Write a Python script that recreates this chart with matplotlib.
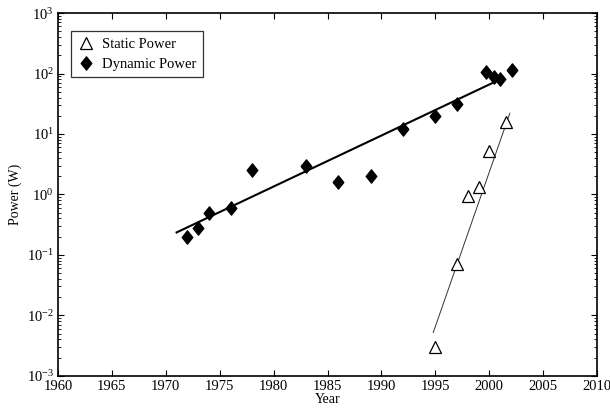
import matplotlib
matplotlib.use('Agg')
import matplotlib.pyplot as plt
from matplotlib.path import Path
import numpy as np

plt.rcParams['font.family'] = 'Liberation Serif'
plt.rcParams['mathtext.fontset'] = 'custom'
plt.rcParams['mathtext.rm'] = 'Liberation Serif'
plt.rcParams['mathtext.it'] = 'Liberation Serif:italic'

# measured dynamic (switching) power per processor generation
dyn_years = [1972, 1973, 1974, 1976, 1978, 1983, 1986, 1989, 1992, 1995, 1997,
             1999.7, 2000.4, 2001.0, 2002.1]
dyn_power = [0.2, 0.28, 0.5, 0.6, 2.5, 3.0, 1.6, 2.0, 12, 20, 31,
             104, 88, 80, 115]

# leakage (static) power
stat_years = [1995, 1997, 1998, 1999, 2000, 2001.5]
stat_power = [0.003, 0.07, 0.95, 1.35, 5.2, 16]

# exponential trend lines (endpoints)
dyn_trend_years = [1971.0, 2001.0]
dyn_trend_power = [0.235, 80]
stat_trend_years = [1994.8, 2001.9]
stat_trend_power = [0.0052, 22]

# diamond slightly wider than matplotlib's thin diamond
diamond = Path([(0, 1), (0.8, 0), (0, -1), (-0.8, 0), (0, 1)],
               [Path.MOVETO, Path.LINETO, Path.LINETO, Path.LINETO, Path.CLOSEPOLY])

fig = plt.figure(figsize=(6.1, 4.08), dpi=100)
ax = fig.add_axes([0.095, 0.079, 0.884, 0.889])

ax.plot(stat_years, stat_power, linestyle='none', marker='^', markersize=8.5,
        markerfacecolor='white', markeredgecolor='black', markeredgewidth=0.9,
        label='Static Power', zorder=3)
ax.plot(dyn_years, dyn_power, linestyle='none', marker=diamond, markersize=9.5,
        color='black', label='Dynamic Power', zorder=3)
ax.plot(dyn_trend_years, dyn_trend_power, color='black', lw=1.5, zorder=2)
ax.plot(stat_trend_years, stat_trend_power, color='#333333', lw=0.7, zorder=2)

ax.set_yscale('log')
ax.set_xlim(1960, 2010)
ax.set_ylim(1e-3, 1e3)
ax.set_xticks(np.arange(1960, 2011, 5))
ax.set_xticklabels([str(y) for y in range(1960, 2011, 5)])

ax.tick_params(which='both', direction='in', top=True, right=True,
               labelsize=10.5, pad=3)
ax.tick_params(which='major', length=4, width=0.8)
ax.tick_params(which='minor', length=2, width=0.6)
ax.tick_params(axis='x', which='minor', top=False, bottom=False)
for s in ax.spines.values():
    s.set_linewidth(1.2)

ax.set_xlabel('Year', fontsize=10, labelpad=0)
ax.set_ylabel('Power (W)', fontsize=10, labelpad=3)

leg = ax.legend(loc='upper left', fontsize=10.5, frameon=True, fancybox=False,
                edgecolor='black', borderpad=0.45, handletextpad=0.5,
                labelspacing=0.45, handlelength=1.2,
                bbox_to_anchor=(0.01, 0.97))
leg.get_frame().set_linewidth(0.9)

fig.savefig('out.png', dpi=100)
